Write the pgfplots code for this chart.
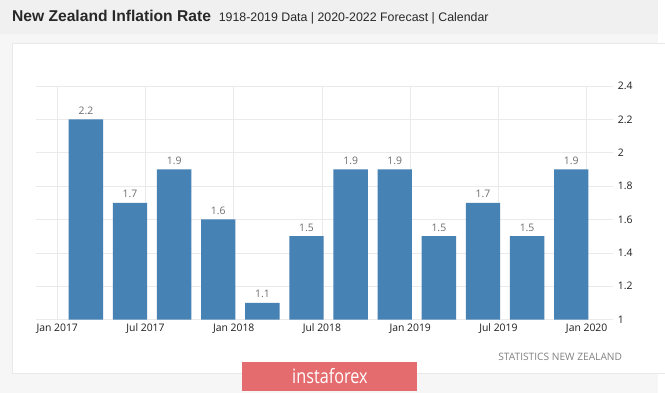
\documentclass[border=0pt]{standalone}
\usepackage{fontspec}
\setmainfont{Open Sans}
\newfontfamily\lib{Liberation Sans}
\usepackage{graphicx}
\usepackage{pgfplots}
\pgfplotsset{compat=1.18}
\definecolor{barblue}{RGB}{70,130,180}
\definecolor{bgcol}{RGB}{246,246,246}
\definecolor{headcol}{RGB}{240,240,240}
\definecolor{panelborder}{RGB}{232,232,232}
\definecolor{gridcol}{RGB}{234,234,234}
\definecolor{titlecol}{RGB}{40,40,40}
\definecolor{ticktext}{RGB}{30,30,30}
\definecolor{valtext}{RGB}{110,110,110}
\definecolor{srctext}{RGB}{130,130,130}
\definecolor{insta}{RGB}{229,108,110}
\begin{document}
\begin{tikzpicture}[x=1pt,y=1pt]
\fill[bgcol] (0,0) rectangle (665,397);
\fill[headcol] (0,363) rectangle (665,397);
\filldraw[fill=white, draw=panelborder] (12,20) rectangle (672,353);
\node[anchor=base west, inner sep=0, text=titlecol, font=\lib\bfseries\fontsize{15.8}{16}\selectfont] at (12,375) {New Zealand Inflation Rate};
\node[anchor=base west, inner sep=0, text=titlecol, font=\lib\fontsize{12.5}{14}\selectfont] at (221,375) {1918-2019 Data | 2020-2022 Forecast | Calendar};
\begin{axis}[
  at={(36pt,74pt)}, anchor=south west,
  width=584pt, height=236pt, scale only axis,
  xmin=-0.49, xmax=12.605, ymin=1, ymax=2.4,
  axis line style={draw=none},
  xtick={0,2,4,6,8,10,12},
  xticklabels={Jan 2017,Jul 2017,Jan 2018,Jul 2018,Jan 2019,Jul 2019,Jan 2020},
  ytick={1,1.2,1.4,1.6,1.8,2,2.2,2.4},
  yticklabels={1,1.2,1.4,1.6,1.8,2,2.2,2.4},
  yticklabel pos=right,
  major tick length=0pt,
  grid=major,
  major grid style={gridcol, line width=0.6pt},
  tick label style={font=\fontsize{10.5}{12}\selectfont, text=ticktext},
  x tick label style={yshift=-1pt},
  y tick label style={xshift=1pt},
  /pgf/number format/assume math mode=true,
  ybar, bar width=0.78,
  nodes near coords,
  nodes near coords style={font=\fontsize{10.5}{12}\selectfont, text=valtext, yshift=1.5pt,
    /pgf/number format/.cd, fixed, precision=1, fixed zerofill, assume math mode=true},
  clip=false,
]
\addplot[fill=barblue, draw=none] coordinates {
(0.65,2.2) (1.65,1.7) (2.65,1.9) (3.65,1.6) (4.65,1.1) (5.65,1.5)
(6.65,1.9) (7.65,1.9) (8.65,1.5) (9.65,1.7) (10.65,1.5) (11.65,1.9)};
\end{axis}
\node[anchor=base east, inner sep=0, text=srctext, font=\fontsize{10.3}{12}\selectfont] at (629,33) {STATISTICS NEW ZEALAND};
\fill[insta] (245,2) rectangle (422,31);
\node[text=white, inner sep=0, font=\fontsize{20}{22}\selectfont\addfontfeatures{FakeStretch=0.82}] at (333.5,17) {instaforex};
\end{tikzpicture}
\end{document}
